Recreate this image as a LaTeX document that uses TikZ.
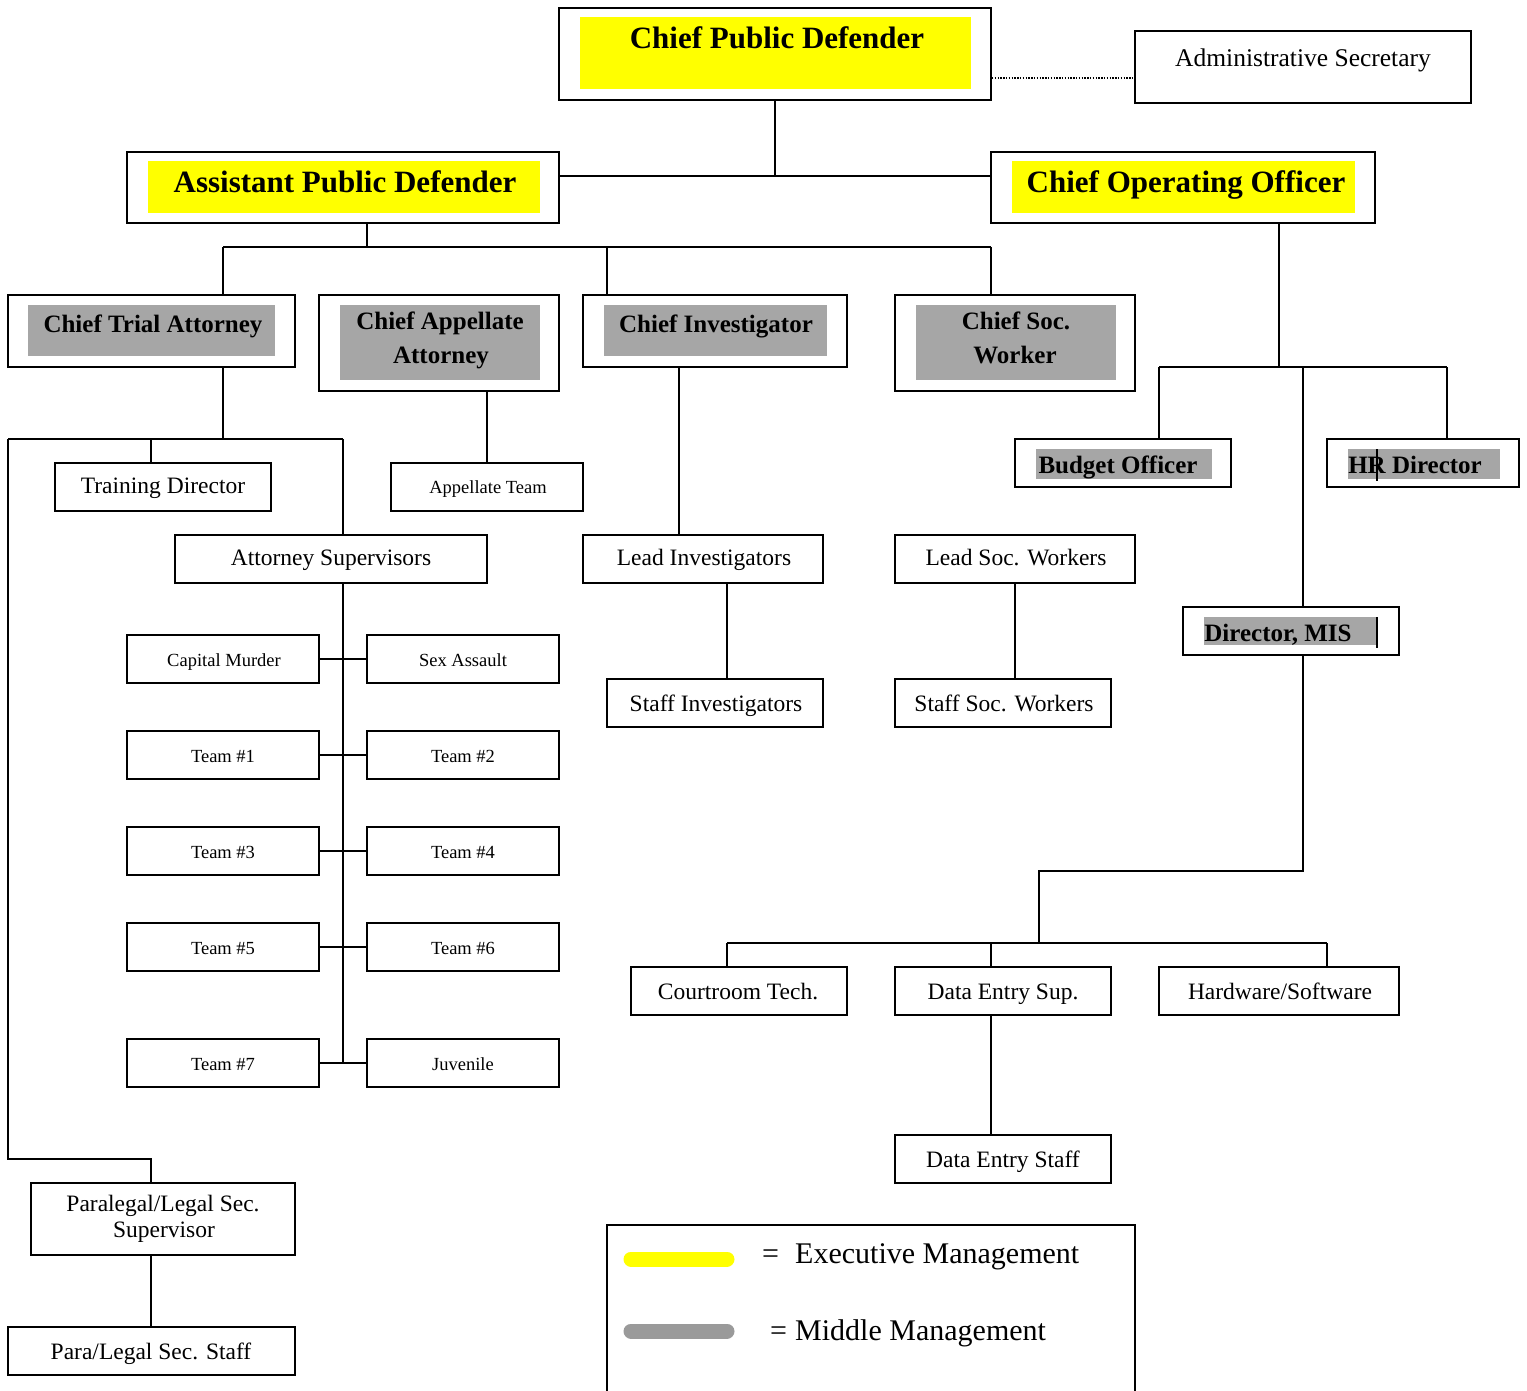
\documentclass[tikz,border=0pt]{standalone}
\usepackage{fontspec}
\setmainfont{Liberation Serif}
\usetikzlibrary{fit}
\definecolor{execcol}{HTML}{FFFF00}
\definecolor{midcol}{HTML}{A6A6A6}
\definecolor{legmid}{HTML}{9A9A9A}
\newcommand\orgbox[5]{\node[box, fit={(#2,#3) (#4,#5)}] (#1) {};}
\begin{document}
\begin{tikzpicture}[x=1pt,y=-1pt,
  box/.style={draw, line width=1.8pt, inner sep=0pt},
  conn/.style={line width=1.8pt},
  txt/.style={inner sep=0pt, anchor=base},
  exectxt/.style={txt, font=\fontsize{31}{33}\selectfont\bfseries},
  midtxt/.style={txt, font=\fontsize{25}{27}\selectfont\bfseries},
  regtxt/.style={txt, font=\fontsize{23.5}{26}\selectfont},
  smalltxt/.style={txt, font=\fontsize{18.5}{20}\selectfont},
  legtxt/.style={inner sep=0pt, anchor=base west, font=\fontsize{30}{32}\selectfont},
  legbar/.style={line width=15pt, line cap=round}]
\useasboundingbox (0,0) rectangle (1527,1391);

% ---------- highlight fills ----------
\fill[execcol] (580,17) rectangle (971,89);
\fill[execcol] (148,161) rectangle (540,213);
\fill[execcol] (1012,161) rectangle (1355,213);
\fill[midcol] (28,305) rectangle (275,356);
\fill[midcol] (340,305) rectangle (540,380);
\fill[midcol] (604,305) rectangle (827,356);
\fill[midcol] (916,305) rectangle (1116,380);
\fill[midcol] (1036,449) rectangle (1212,479);
\fill[midcol] (1348,449) rectangle (1500,479);
\fill[midcol] (1204,617) rectangle (1378,645);

% ---------- boxes ----------
\orgbox{cpd}{559}{8}{991}{100}
\orgbox{adm}{1135}{31}{1471}{103}
\orgbox{apd}{127}{152}{559}{223}
\orgbox{coo}{991}{152}{1375}{223}
\orgbox{cta}{8}{295}{295}{367}
\orgbox{caa}{319}{295}{559}{391}
\orgbox{cinv}{583}{295}{847}{367}
\orgbox{csw}{895}{295}{1135}{391}
\orgbox{bud}{1015}{439}{1231}{487}
\orgbox{hr}{1327}{439}{1519}{487}
\orgbox{trd}{55}{463}{271}{511}
\orgbox{app}{391}{463}{583}{511}
\orgbox{asup}{175}{535}{487}{583}
\orgbox{linv}{583}{535}{823}{583}
\orgbox{lsw}{895}{535}{1135}{583}
\orgbox{mis}{1183}{607}{1399}{655}
\orgbox{cm}{127}{635}{319}{683}
\orgbox{sa}{367}{635}{559}{683}
\orgbox{ta}{127}{731}{319}{779}
\orgbox{tb}{367}{731}{559}{779}
\orgbox{tc}{127}{827}{319}{875}
\orgbox{td}{367}{827}{559}{875}
\orgbox{te}{127}{923}{319}{971}
\orgbox{tf}{367}{923}{559}{971}
\orgbox{tg}{127}{1039}{319}{1087}
\orgbox{juv}{367}{1039}{559}{1087}
\orgbox{sinv}{607}{679}{823}{727}
\orgbox{ssw}{895}{679}{1111}{727}
\orgbox{ct}{631}{967}{847}{1015}
\orgbox{des}{895}{967}{1111}{1015}
\orgbox{hw}{1159}{967}{1399}{1015}
\orgbox{dest}{895}{1135}{1111}{1183}
\orgbox{plsup}{31}{1183}{295}{1255}
\orgbox{plst}{8}{1327}{295}{1375}

% ---------- texts ----------
\node[exectxt] (cpd-t) at (777,49) {Chief Public Defender};
\node[regtxt, font=\fontsize{25.5}{27}\selectfont] (adm-t) at (1303,67) {Administrative Secretary};
\node[exectxt] (apd-t) at (345,193) {Assistant Public Defender};
\node[exectxt] (coo-t) at (1186,193) {Chief Operating Officer};
\node[midtxt] (cta-t) at (153,332) {Chief Trial Attorney};
\node[midtxt] (caa-t1) at (440,330) {Chief Appellate};
\node[midtxt] (caa-t2) at (441,363) {Attorney};
\node[midtxt] (cinv-t) at (716,332) {Chief Investigator};
\node[midtxt] (csw-t1) at (1016,330) {Chief Soc.};
\node[midtxt] (csw-t2) at (1015,363) {Worker};
\node[midtxt] (bud-t) at (1118,473) {Budget Officer};
\node[midtxt] (hr-t) at (1415,473) {HR Director};
\node[midtxt] (mis-t) at (1278,641) {Director, MIS};
\node[regtxt] (trd-t) at (163,493) {Training Director};
\node[smalltxt] (app-t) at (488,493) {Appellate Team};
\node[regtxt] (asup-t) at (331,565) {Attorney Supervisors};
\node[regtxt] (linv-t) at (704,565) {Lead Investigators};
\node[regtxt] (lsw-t) at (1016,565) {Lead Soc. Workers};
\node[regtxt] (sinv-t) at (716,711) {Staff Investigators};
\node[regtxt] (ssw-t) at (1004,711) {Staff Soc. Workers};
\node[smalltxt] (cm-t) at (224,666) {Capital Murder};
\node[smalltxt] (sa-t) at (463,666) {Sex Assault};
\node[smalltxt] (ta-t) at (223,762) {Team \#1};
\node[smalltxt] (tb-t) at (463,762) {Team \#2};
\node[smalltxt] (tc-t) at (223,858) {Team \#3};
\node[smalltxt] (td-t) at (463,858) {Team \#4};
\node[smalltxt] (te-t) at (223,954) {Team \#5};
\node[smalltxt] (tf-t) at (463,954) {Team \#6};
\node[smalltxt] (tg-t) at (223,1070) {Team \#7};
\node[smalltxt] (juv-t) at (463,1070) {Juvenile};
\node[regtxt] (ct-t) at (738,999) {Courtroom Tech.};
\node[regtxt] (des-t) at (1003,999) {Data Entry Sup.};
\node[regtxt] (hw-t) at (1280,999) {Hardware/Software};
\node[regtxt] (dest-t) at (1003,1167) {Data Entry Staff};
\node[regtxt] (plsup-t1) at (163,1211) {Paralegal/Legal Sec.};
\node[regtxt] (plsup-t2) at (164,1237) {Supervisor};
\node[regtxt] (plst-t) at (151,1359) {Para/Legal Sec. Staff};

% cursor marks
\draw[line width=1.8pt] (1377,449) -- (1377,481);
\draw[line width=1.8pt] (1377,617) -- (1377,648);

% ---------- connectors ----------
\draw[line width=1.4pt, dash pattern=on 1.4pt off 1.4pt] (cpd.east |- 0,78) -- (adm.west |- 0,78);
\draw[conn] (cpd.south) -- (cpd.south |- 0,176);
\draw[conn] (apd.east |- 0,176) -- (coo.west |- 0,176);
% APD children
\draw[conn] (367,0 |- apd.south) -- (367,247);
\draw[conn] (223,247) -- (991,247);
\draw[conn] (223,247) -- (223,0 |- cta.north);
\draw[conn] (607,247) -- (607,0 |- cinv.north);
\draw[conn] (991,247) -- (991,0 |- csw.north);
% COO children
\draw[conn] (1279,0 |- coo.south) -- (1279,367);
\draw[conn] (1159,367) -- (1447,367);
\draw[conn] (1159,367) -- (1159,0 |- bud.north);
\draw[conn] (1447,367) -- (1447,0 |- hr.north);
\draw[conn] (1303,367) -- (1303,0 |- mis.north);
% MIS children
\draw[conn] (1303,0 |- mis.south) -- (1303,871) -- (1039,871) -- (1039,943);
\draw[conn] (727,943) -- (1327,943);
\draw[conn] (727,943) -- (727,0 |- ct.north);
\draw[conn] (991,943) -- (991,0 |- des.north);
\draw[conn] (1327,943) -- (1327,0 |- hw.north);
\draw[conn] (991,0 |- des.south) -- (991,0 |- dest.north);
% Chief Trial Attorney children
\draw[conn] (223,0 |- cta.south) -- (223,439);
\draw[conn] (8,439) -- (343,439);
\draw[conn] (151,439) -- (151,0 |- trd.north);
\draw[conn] (343,439) -- (343,0 |- asup.north);
\draw[conn] (8,439) -- (8,1159) -- (151,1159) -- (151,0 |- plsup.north);
\draw[conn] (151,0 |- plsup.south) -- (151,0 |- plst.north);
% attorney supervisors spine
\draw[conn] (343,0 |- asup.south) -- (343,1063);
\draw[conn] (cm.east) -- (sa.west);
\draw[conn] (ta.east) -- (tb.west);
\draw[conn] (tc.east) -- (td.west);
\draw[conn] (te.east) -- (tf.west);
\draw[conn] (tg.east) -- (juv.west);
% appellate, investigators, social workers
\draw[conn] (caa.south -| app.north) -- (app.north);
\draw[conn] (679,0 |- cinv.south) -- (679,0 |- linv.north);
\draw[conn] (727,0 |- linv.south) -- (727,0 |- sinv.north);
\draw[conn] (lsw.south) -- (lsw.south |- ssw.north);

% ---------- legend ----------
\draw[conn] (607,1392) -- (607,1225) -- (1135,1225) -- (1135,1392);
\draw[legbar, execcol] (631,1259) -- (727,1259);
\draw[legbar, legmid] (631,1331) -- (727,1331);
\node[legtxt] (leg-eq1) at (762,1263) {=};
\node[legtxt] (leg-exec) at (795,1263) {Executive Management};
\node[legtxt] (leg-eq2) at (770,1340) {=};
\node[legtxt] (leg-mid) at (795,1340) {Middle Management};
\end{tikzpicture}
\end{document}
